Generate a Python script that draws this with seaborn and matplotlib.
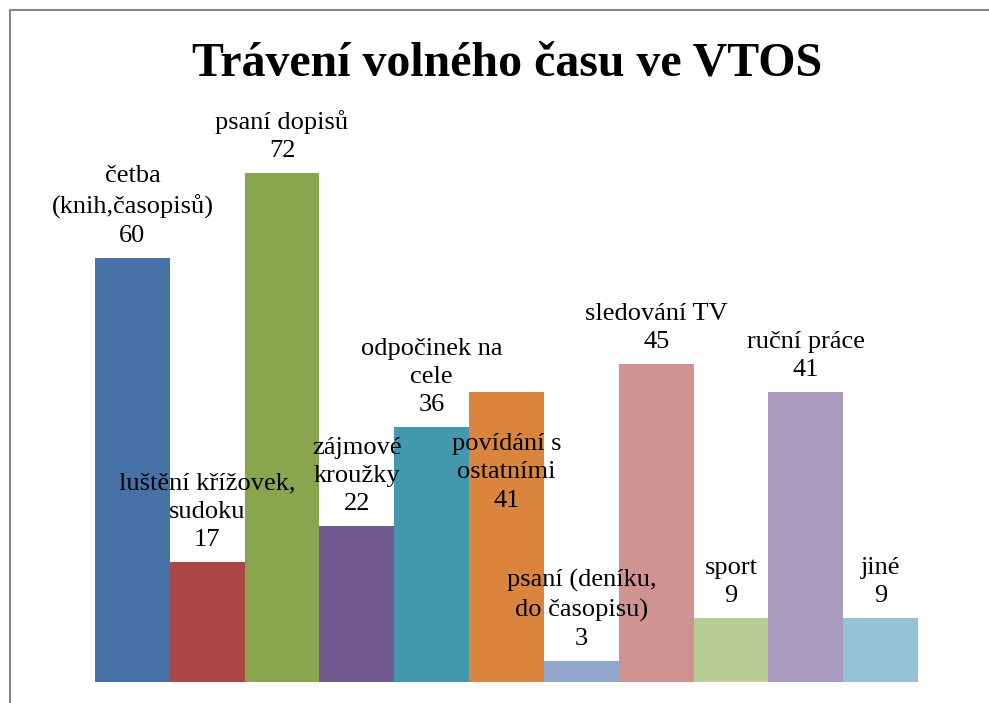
import matplotlib
matplotlib.use("Agg")
import matplotlib.pyplot as plt
import seaborn as sns
import pandas as pd
from matplotlib.lines import Line2D

# --- Data ---
categories = [
    "četba\n(knih,časopisů)",
    "luštění křížovek,\nsudoku",
    "psaní dopisů",
    "zájmové\nkroužky",
    "odpočinek na\ncele",
    "povídání s\nostatními",
    "psaní (deníku,\ndo časopisu)",
    "sledování TV",
    "sport",
    "ruční práce",
    "jiné",
]
counts = [60, 17, 72, 22, 36, 41, 3, 45, 9, 41, 9]
colors = ["#4672A8", "#AA4744", "#89A54E", "#71588F", "#4298AF", "#DB843D",
          "#93A9CF", "#D19392", "#B9CD96", "#A99BBD", "#93C3D4"]
title = "Trávení volného času ve VTOS"

df = pd.DataFrame({"kategorie": categories, "pocet": counts})

sns.set_theme(style="white")
plt.rcParams["font.family"] = ["Liberation Serif", "DejaVu Serif"]

W, H = 989, 703
fig = plt.figure(figsize=(W / 100, H / 100), dpi=100)

# plot area: bars from x=95 to 918 px, baseline at y=682 px
ymax = 80
px_per_unit = 7.07
ax_h = ymax * px_per_unit
ax = fig.add_axes([95 / W, (H - 682) / H, (918 - 95) / W, ax_h / H])

sns.barplot(data=df, x="kategorie", y="pocet", hue="kategorie",
            palette=colors, width=1.0, saturation=1, legend=False,
            linewidth=0, ax=ax)
ax.set_xlim(-0.5, len(categories) - 0.5)
ax.set_ylim(0, ymax)
ax.set_axis_off()

# --- data labels (category + value) above each bar ---
for cont, cat, val in zip(ax.containers, categories, counts):
    bar = cont.patches[0]
    cx = bar.get_x() + bar.get_width() / 2
    dy = 8  # points above the bar
    if cat.startswith("povídání"):
        dy = -86  # Excel pushed this one down into its bar
    ax.annotate(f"{cat}\n{val}", (cx, bar.get_height()),
                xytext=(0, dy), textcoords="offset points",
                ha="center", va="bottom", fontsize=19,
                linespacing=1.36, color="black", annotation_clip=False)

# --- title ---
fig.text(507 / W, 1 - 75 / H, title, ha="center", va="baseline",
         fontsize=34.5, fontweight="bold", color="black")

# --- chart border (top and left visible) ---
fig.add_artist(Line2D([9.5 / W, 9.5 / W], [0, 1 - 9.5 / H], color="#868686", lw=1.5))
fig.add_artist(Line2D([9.5 / W, 1], [1 - 9.5 / H, 1 - 9.5 / H], color="#868686", lw=1.5))

fig.savefig("out.png", dpi=100)
